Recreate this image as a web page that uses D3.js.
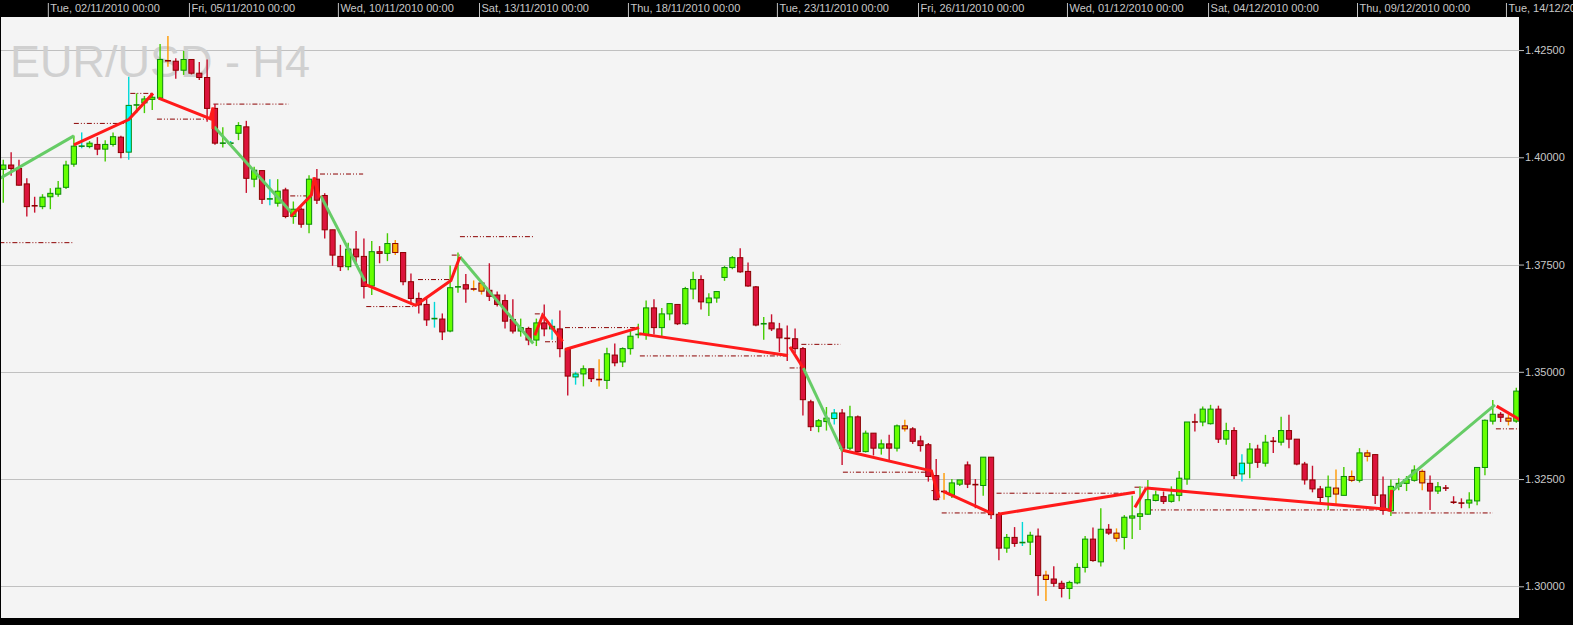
<!DOCTYPE html>
<html><head><meta charset="utf-8">
<script src="https://cdn.jsdelivr.net/npm/d3@7"></script>
<style>html,body{margin:0;padding:0;background:#000;overflow:hidden}svg{display:block}</style>
</head><body><svg id="c" width="1573" height="625"></svg>
<script>
// ---- DATA (EUR/USD H4 candles) ----
const opens = [1.3972,1.3982,1.3974,1.3938,1.3887,1.3885,1.3908,1.3914,1.3930,1.3984,
1.4026,1.4025,1.4030,1.4019,1.4030,1.4047,1.4012,1.4122,1.4127,1.4135,
1.4138,1.4225,1.4224,1.4203,1.4228,1.4196,1.4186,1.4114,1.4033,1.4033,
1.4056,1.4071,1.3949,1.3969,1.3903,1.3893,1.3924,1.3862,1.3879,1.3844,
1.3949,1.3911,1.3831,1.3769,1.3745,1.3786,1.3769,1.3700,1.3780,1.3776,
1.3799,1.3778,1.3710,1.3671,1.3657,1.3624,1.3623,1.3595,1.3698,1.3703,
1.3693,1.3707,1.3690,1.3679,1.3666,1.3622,1.3595,1.3601,1.3574,1.3614,
1.3600,1.3600,1.3552,1.3488,1.3495,1.3507,1.3482,1.3480,1.3539,1.3523,
1.3554,1.3587,1.3587,1.3649,1.3603,1.3635,1.3657,1.3612,1.3693,1.3715,
1.3661,1.3672,1.3720,1.3743,1.3766,1.3734,1.3698,1.3612,1.3614,1.3600,
1.3578,1.3577,1.3554,1.3430,1.3373,1.3384,1.3391,1.3404,1.3322,1.3395,
1.3314,1.3357,1.3322,1.3332,1.3322,1.3374,1.3367,1.3339,1.3330,1.3258,
1.3221,1.3213,1.3238,1.3283,1.3237,1.3235,1.3301,1.3168,1.3089,1.3114,
1.3102,1.3103,1.3117,1.3026,1.3017,1.3007,1.2995,1.3008,1.3044,1.3110,
1.3057,1.3133,1.3124,1.3114,1.3159,1.3163,1.3168,1.3200,1.3209,1.3198,
1.3212,1.3250,1.3383,1.3383,1.3379,1.3413,1.3343,1.3363,1.3262,1.3287,
1.3320,1.3287,1.3338,1.3336,1.3363,1.3343,1.3285,1.3248,1.3227,1.3209,
1.3229,1.3212,1.3256,1.3247,1.3311,1.3307,1.3213,1.3176,1.3233,1.3240,
1.3247,1.3268,1.3240,1.3222,1.3229,1.3196,1.3194,1.3194,1.3199,1.3277,
1.3385,1.3401,1.3392,1.3385];
const highs = [1.3994,1.4012,1.3994,1.3951,1.3908,1.3914,1.3928,1.3945,1.3992,1.4051,
1.4058,1.4038,1.4047,1.4040,1.4058,1.4050,1.4188,1.4149,1.4143,1.4149,
1.4264,1.4283,1.4231,1.4248,1.4228,1.4222,1.4228,1.4124,1.4070,1.4038,
1.4082,1.4085,1.3978,1.3970,1.3949,1.3949,1.3929,1.3897,1.3883,1.3958,
1.3973,1.3916,1.3831,1.3796,1.3801,1.3828,1.3811,1.3805,1.3793,1.3823,
1.3807,1.3778,1.3729,1.3685,1.3671,1.3663,1.3636,1.3748,1.3778,1.3728,
1.3713,1.3711,1.3753,1.3687,1.3680,1.3669,1.3624,1.3605,1.3624,1.3657,
1.3622,1.3643,1.3556,1.3500,1.3515,1.3507,1.3529,1.3556,1.3566,1.3557,
1.3595,1.3612,1.3666,1.3669,1.3649,1.3659,1.3657,1.3698,1.3733,1.3725,
1.3683,1.3688,1.3747,1.3770,1.3788,1.3755,1.3700,1.3628,1.3634,1.3614,
1.3608,1.3601,1.3558,1.3435,1.3390,1.3418,1.3413,1.3413,1.3421,1.3398,
1.3363,1.3357,1.3342,1.3353,1.3377,1.3388,1.3371,1.3351,1.3334,1.3297,
1.3264,1.3250,1.3248,1.3291,1.3250,1.3301,1.3301,1.3173,1.3122,1.3138,
1.3150,1.3127,1.3135,1.3036,1.3047,1.3013,1.3013,1.3054,1.3117,1.3137,
1.3182,1.3145,1.3135,1.3166,1.3211,1.3233,1.3248,1.3223,1.3221,1.3233,
1.3269,1.3383,1.3402,1.3419,1.3423,1.3421,1.3381,1.3371,1.3308,1.3334,
1.3330,1.3353,1.3348,1.3395,1.3400,1.3343,1.3290,1.3281,1.3234,1.3258,
1.3272,1.3278,1.3270,1.3322,1.3318,1.3307,1.3256,1.3249,1.3252,1.3257,
1.3282,1.3272,1.3258,1.3243,1.3236,1.3210,1.3205,1.3219,1.3277,1.3389,
1.3434,1.3406,1.3401,1.3463];
const lows = [1.3894,1.3957,1.3934,1.3862,1.3871,1.3879,1.3879,1.3908,1.3926,1.3978,
1.4021,1.4021,1.4005,1.3990,1.4025,1.3998,1.3994,1.4103,1.4103,1.4110,
1.4134,1.4211,1.4183,1.4192,1.4193,1.4180,1.4083,1.4029,1.4023,1.4028,
1.4040,1.3917,1.3930,1.3891,1.3888,1.3885,1.3858,1.3845,1.3836,1.3823,
1.3891,1.3811,1.3747,1.3735,1.3737,1.3755,1.3671,1.3679,1.3753,1.3758,
1.3772,1.3702,1.3657,1.3636,1.3607,1.3603,1.3574,1.3592,1.3684,1.3661,
1.3688,1.3680,1.3665,1.3652,1.3601,1.3589,1.3582,1.3562,1.3560,1.3583,
1.3575,1.3534,1.3445,1.3470,1.3466,1.3476,1.3466,1.3460,1.3513,1.3511,
1.3540,1.3578,1.3575,1.3587,1.3583,1.3620,1.3609,1.3609,1.3669,1.3645,
1.3630,1.3661,1.3712,1.3739,1.3731,1.3698,1.3606,1.3575,1.3595,1.3546,
1.3525,1.3544,1.3398,1.3362,1.3359,1.3363,1.3377,1.3283,1.3318,1.3312,
1.3312,1.3305,1.3307,1.3293,1.3314,1.3361,1.3332,1.3314,1.3244,1.3200,
1.3202,1.3206,1.3234,1.3229,1.3182,1.3211,1.3157,1.3061,1.3078,1.3092,
1.3094,1.3073,1.2978,1.2966,1.2999,1.2974,1.2970,1.3005,1.3032,1.3057,
1.3046,1.3120,1.3104,1.3086,1.3110,1.3131,1.3167,1.3198,1.3192,1.3195,
1.3198,1.3237,1.3361,1.3373,1.3377,1.3334,1.3330,1.3250,1.3244,1.3252,
1.3276,1.3279,1.3311,1.3328,1.3322,1.3282,1.3237,1.3219,1.3195,1.3178,
1.3192,1.3212,1.3243,1.3242,1.3291,1.3192,1.3167,1.3164,1.3224,1.3222,
1.3244,1.3224,1.3178,1.3215,1.3222,1.3192,1.3182,1.3182,1.3189,1.3259,
1.3377,1.3383,1.3375,1.3381];
const closes = [1.3982,1.3974,1.3935,1.3885,1.3887,1.3907,1.3916,1.3928,1.3982,1.4026,
1.4026,1.4033,1.4019,1.4030,1.4048,1.4011,1.4121,1.4122,1.4136,1.4140,
1.4228,1.4225,1.4203,1.4228,1.4196,1.4186,1.4114,1.4033,1.4033,1.4033,
1.4074,1.3951,1.3970,1.3902,1.3903,1.3921,1.3862,1.3879,1.3844,1.3949,
1.3900,1.3831,1.3772,1.3745,1.3786,1.3768,1.3699,1.3780,1.3776,1.3799,
1.3778,1.3710,1.3671,1.3656,1.3621,1.3624,1.3593,1.3696,1.3698,1.3693,
1.3693,1.3688,1.3676,1.3657,1.3618,1.3595,1.3603,1.3574,1.3614,1.3600,
1.3606,1.3554,1.3490,1.3495,1.3507,1.3484,1.3482,1.3542,1.3521,1.3554,
1.3583,1.3587,1.3649,1.3603,1.3635,1.3659,1.3612,1.3694,1.3715,1.3663,
1.3672,1.3687,1.3743,1.3766,1.3733,1.3700,1.3609,1.3612,1.3600,1.3579,
1.3578,1.3554,1.3435,1.3372,1.3386,1.3392,1.3404,1.3322,1.3395,1.3314,
1.3357,1.3322,1.3332,1.3322,1.3374,1.3367,1.3338,1.3328,1.3256,1.3202,
1.3221,1.3241,1.3248,1.3238,1.3237,1.3301,1.3167,1.3089,1.3114,1.3100,
1.3102,1.3119,1.3025,1.3016,1.3007,1.2995,1.3009,1.3044,1.3110,1.3060,
1.3133,1.3124,1.3112,1.3161,1.3164,1.3169,1.3202,1.3213,1.3198,1.3213,
1.3252,1.3383,1.3383,1.3413,1.3413,1.3343,1.3363,1.3258,1.3287,1.3320,
1.3289,1.3336,1.3338,1.3363,1.3343,1.3285,1.3248,1.3227,1.3207,1.3231,
1.3215,1.3256,1.3247,1.3311,1.3303,1.3212,1.3177,1.3233,1.3240,1.3249,
1.3271,1.3241,1.3222,1.3232,1.3229,1.3196,1.3194,1.3201,1.3277,1.3387,
1.3401,1.3394,1.3385,1.3455];
// candle colour class: u = up (green), d = down (crimson), c = cyan, o = orange
const kinds = ("udddduuuuu"+"cuduudcuuu"+"uodudddduc"+"ududcududu"+"dddduddudu"+
"oddddcduud"+"ooddddudud"+"cddcudoudu"+"uuuduuduud"+"uuuudddudd"+
"dddduucdud"+"ududuodddd"+"ouudduddud"+"cudodduuud"+"udouuuuudu"+
"uuduududcu"+"dududddddu"+"ououodduuu"+"uoduddduuu"+"udou").split("");

const timeTickBars = [6,24,43,61,80,99,117,136,154,173,192];
const timeTickLabels = ["Tue, 02/11/2010 00:00","Fri, 05/11/2010 00:00","Wed, 10/11/2010 00:00",
"Sat, 13/11/2010 00:00","Thu, 18/11/2010 00:00","Tue, 23/11/2010 00:00","Fri, 26/11/2010 00:00",
"Wed, 01/12/2010 00:00","Sat, 04/12/2010 00:00","Thu, 09/12/2010 00:00","Tue, 14/12/2010 00:00"];
const priceTicks = [1.300,1.325,1.350,1.375,1.400,1.425];

// zigzag legs: [barIndex, price]
const zigGreen = [
 [[-1,1.3945],[9,1.4050]],
 [[26.9,1.4071],[36.66,1.3873]],
 [[40.5,1.3910],[46.14,1.3711]],
 [[58.25,1.3768],[67.6,1.3566]],
 [[102.04,1.3509],[107.07,1.3314]],
 [[177.3,1.3224],[190.27,1.3423]]
];
const zigRed = [
 [[9,1.4029],[16,1.4088],[19.1,1.4149]],
 [[19.8,1.4138],[26.4,1.4090],[26.75,1.4116],[26.75,1.4066]],
 [[36.66,1.3862],[39.3,1.3912],[39.65,1.3953],[40.3,1.3906]],
 [[46.14,1.3704],[52.6,1.3655],[57.1,1.3713],[58.25,1.3768]],
 [[67.8,1.3585],[68.8,1.3632],[71.35,1.3571]],
 [[71.65,1.3552],[81.1,1.3603]],
 [[81.1,1.3589],[100.1,1.3538]],
 [[100.34,1.3558],[102.04,1.3509]],
 [[107.07,1.3317],[118.4,1.3269],[119.35,1.3206]],
 [[119.9,1.3221],[126.2,1.3169]],
 [[126.9,1.3168],[144.35,1.3219]],
 [[144.35,1.3184],[145.8,1.3229]],
 [[145.8,1.3229],[176.2,1.3180],[176.9,1.3177],[177.1,1.3225]],
 [[190.5,1.3420],[194.5,1.3377]]
];
// dotted levels: [fromBar, toBar, price]
const levels = [
 [-0.5,8.8,1.3801],[9.0,16.2,1.4079],[16.2,19.1,1.4149],[19.6,26.4,1.4089],[26.8,36.4,1.4124],
 [36.6,39.1,1.3910],[40.4,45.9,1.3961],[46.3,52.5,1.3652],[52.9,57.2,1.3715],[57.2,58.25,1.3772],
 [58.25,67.6,1.3815],[67.8,68.9,1.3635],[69.1,71.4,1.3570],[71.65,81.1,1.3603],[81.2,100.1,1.3537],
 [100.3,102.0,1.3509],[101.8,106.8,1.3564],[107.1,118.4,1.3266],[118.4,119.4,1.3223],[119.7,126.1,1.3171],
 [126.7,144.3,1.3217],[144.3,145.8,1.3231],[146.0,176.9,1.3178],[177.1,190.0,1.3171],[190.4,194.5,1.3367]
];
const titleText = "EUR/USD - H4";

// ---- DRAWING ----
const svg = d3.select("#c");
const plot = {x:1, y:17, w:1518, h:601};
const n = opens.length;
const x = d3.scaleLinear().domain([0, 193]).range([3.3, 1516.3]);
const y = d3.scaleLinear().domain([1.300, 1.425]).range([586.3, 50.05]);

svg.append("rect").attr("width",1573).attr("height",625).attr("fill","#000");
svg.append("defs").append("clipPath").attr("id","clip").append("rect")
  .attr("x",plot.x).attr("y",plot.y).attr("width",plot.w).attr("height",plot.h);
svg.append("rect").attr("x",plot.x).attr("y",plot.y).attr("width",plot.w).attr("height",plot.h).attr("fill","#f4f4f4");

const g = svg.append("g").attr("clip-path","url(#clip)");

// grid
g.append("g").selectAll("line").data(priceTicks).join("line")
  .attr("x1",plot.x).attr("x2",plot.x+plot.w)
  .attr("y1",d=>Math.round(y(d))+0.5).attr("y2",d=>Math.round(y(d))+0.5)
  .attr("stroke","#c0c0c0").attr("stroke-width",1.2);

// title
g.append("text").attr("x",10).attr("y",77).text(titleText)
  .attr("font-family","Liberation Sans, Arial, sans-serif").attr("font-size",45)
  .attr("fill","#d0d0d0");

// dotted levels
g.append("g").selectAll("line").data(levels).join("line")
  .attr("x1",d=>x(d[0])).attr("x2",d=>x(d[1]))
  .attr("y1",d=>y(d[2])).attr("y2",d=>y(d[2]))
  .attr("stroke","#8b0000").attr("stroke-width",1)
  .attr("stroke-dasharray","5,2,1,2,1,2");

// candles
const pal = {
  u:{fill:"#66ff00", stroke:"#0a8a0a", wick:"#44cc00", doji:"#0a8a0a"},
  d:{fill:"#dc143c", stroke:"#8b0000", wick:"#c8102e", doji:"#8b0000"},
  c:{fill:"#00ffff", stroke:"#0a8a0a", wick:"#00d8d8", doji:"#0a8a0a"},
  o:{fill:"#ffb400", stroke:"#8b0000", wick:"#ff9900", doji:"#8b0000"}
};
const bars = d3.range(n).map(i=>({i, o:opens[i], h:highs[i], l:lows[i], c:closes[i], k:kinds[i]||"u"}));
const cg = g.append("g");
const cand = cg.selectAll("g").data(bars).join("g");
cand.append("line")
  .attr("x1",d=>x(d.i)).attr("x2",d=>x(d.i))
  .attr("y1",d=>y(d.h)).attr("y2",d=>y(d.l))
  .attr("stroke",d=>pal[d.k].wick).attr("stroke-width",1.4);
cand.filter(d=>d.o!==d.c).append("rect")
  .attr("x",d=>x(d.i)-2.6).attr("width",5.2)
  .attr("y",d=>y(Math.max(d.o,d.c)))
  .attr("height",d=>Math.abs(y(d.o)-y(d.c)))
  .attr("fill",d=>pal[d.k].fill).attr("stroke",d=>pal[d.k].stroke).attr("stroke-width",1);
cand.filter(d=>d.o===d.c).append("line")
  .attr("x1",d=>x(d.i)-3).attr("x2",d=>x(d.i)+3)
  .attr("y1",d=>y(d.o)).attr("y2",d=>y(d.o))
  .attr("stroke",d=>pal[d.k].doji).attr("stroke-width",1.6);

// zigzags
const line = d3.line().x(d=>x(d[0])).y(d=>y(d[1]));
g.append("g").selectAll("path").data(zigGreen).join("path")
  .attr("d",line).attr("fill","none").attr("stroke","#66cc66").attr("stroke-width",3);
g.append("g").selectAll("path").data(zigRed).join("path")
  .attr("d",line).attr("fill","none").attr("stroke","#ff1a1a").attr("stroke-width",3);

// right price axis
const yAxis = d3.axisRight(y).tickValues(priceTicks).tickFormat(d3.format(".5f")).tickSize(5).tickPadding(1);
const ya = svg.append("g").attr("transform",`translate(${plot.x+plot.w},0)`).call(yAxis);
ya.select(".domain").remove();
ya.selectAll("line").attr("stroke","#c0c0c0");
ya.selectAll("text").attr("fill","#c8c8c8").attr("font-family","Liberation Sans, Arial, sans-serif").attr("font-size",11);

// top time axis
const xAxis = d3.axisTop(x).tickValues(timeTickBars).tickFormat((d,i)=>timeTickLabels[i]).tickSize(14).tickPadding(0);
const xa = svg.append("g").attr("transform",`translate(-2.5,${plot.y})`).call(xAxis);
xa.select(".domain").remove();
xa.selectAll("line").attr("stroke","#c0c0c0");
xa.selectAll("text").attr("fill","#c8c8c8").attr("font-family","Liberation Sans, Arial, sans-serif")
  .attr("font-size",11).attr("text-anchor","start").attr("x",2).attr("y",-5).attr("dy",0);
</script></body></html>
